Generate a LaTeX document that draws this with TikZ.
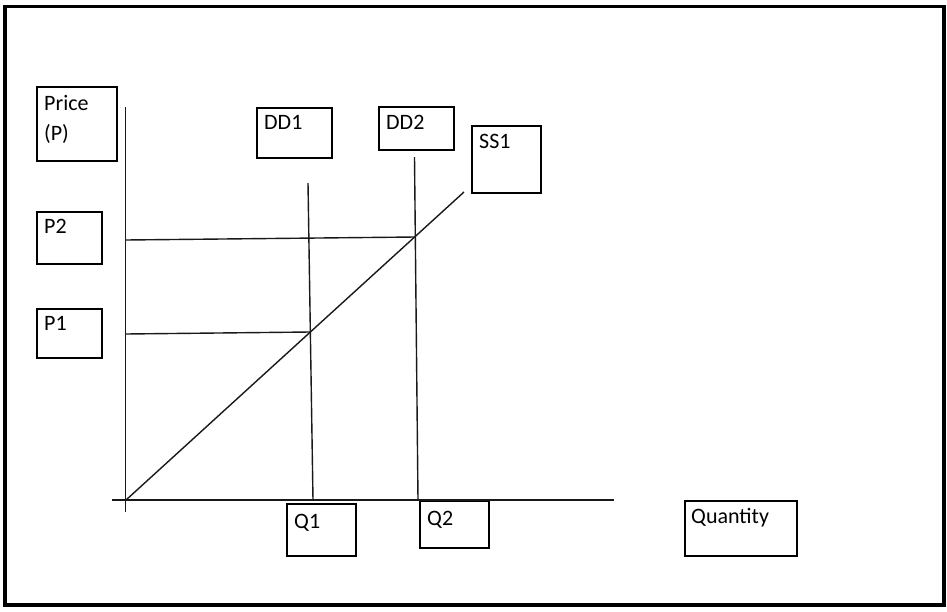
\documentclass[tikz,border=0pt]{standalone}
\usepackage{fontspec}
\setmainfont{Carlito}
\begin{document}
\begin{tikzpicture}[x=1pt,y=-1pt,
  frame/.style={draw=black, line width=3.4pt},
  box/.style={draw=black, line width=2pt, inner sep=0pt, anchor=north west},
  lbl/.style={inner sep=0pt, anchor=base west, font=\fontsize{22}{26}\selectfont},
  axis/.style={draw=black!90, line width=1.6pt},
  curve/.style={draw=black!90, line width=1.4pt}]
\useasboundingbox (0,0) rectangle (947,611);
\draw[frame] (5,6.5) rectangle (944,605);
% boxes
\node[box, minimum width=80pt, minimum height=74pt] (pricebox) at (36,86) {};
\node[box, minimum width=75pt, minimum height=50pt] (dd1box) at (256,107) {};
\node[box, minimum width=75pt, minimum height=43pt] (dd2box) at (378,106) {};
\node[box, minimum width=69pt, minimum height=67pt] (ss1box) at (471,124.5) {};
\node[box, minimum width=65pt, minimum height=52pt] (p2box) at (36,211) {};
\node[box, minimum width=65pt, minimum height=49pt] (p1box) at (36,308) {};
\node[box, minimum width=69pt, minimum height=52pt] (q1box) at (286,503) {};
\node[box, minimum width=69pt, minimum height=47pt] (q2box) at (419,500) {};
\node[box, minimum width=112pt, minimum height=55pt] (qtybox) at (684,500) {};
% labels
\node[lbl] (pricet) at (44,110) {Price};
\node[lbl] (pt) at (44,140) {(P)};
\node[lbl] (dd1t) at (264,129) {DD1};
\node[lbl] (dd2t) at (386,129) {DD2};
\node[lbl] (ss1t) at (479,148) {SS1};
\node[lbl] (p2t) at (44,233) {P2};
\node[lbl] (p1t) at (44,330) {P1};
\node[lbl] (q1t) at (294,528) {Q1};
\node[lbl] (q2t) at (427,525) {Q2};
\node[lbl] (qtyt) at (691,523) {Quantity};
% coordinates
\coordinate (ytop) at (125.5,107);
\coordinate (ybot) at (125.5,512);
\coordinate (xleft) at (112,500);
\coordinate (xright) at (614,500);
\coordinate (origin) at (126,500);
\coordinate (sstop) at (464,192);
\coordinate (dd1top) at (308,183);
\coordinate (dd1bot) at (313,500);
\coordinate (dd2top) at (414.5,157);
\coordinate (dd2bot) at (418,500);
\coordinate (p2l) at (125.5,240);
\coordinate (p2r) at (415,237);
\coordinate (p1l) at (125.5,334);
\coordinate (p1r) at (310,332);
% axes
\draw[axis] (ytop) -- (ybot);
\draw[axis] (xleft) -- (xright);
% curves
\draw[curve] (origin) -- (sstop);
\draw[curve] (dd1top) -- (dd1bot);
\draw[curve] (dd2top) -- (dd2bot);
\draw[curve] (p2l) -- (p2r);
\draw[curve] (p1l) -- (p1r);
\end{tikzpicture}
\end{document}
